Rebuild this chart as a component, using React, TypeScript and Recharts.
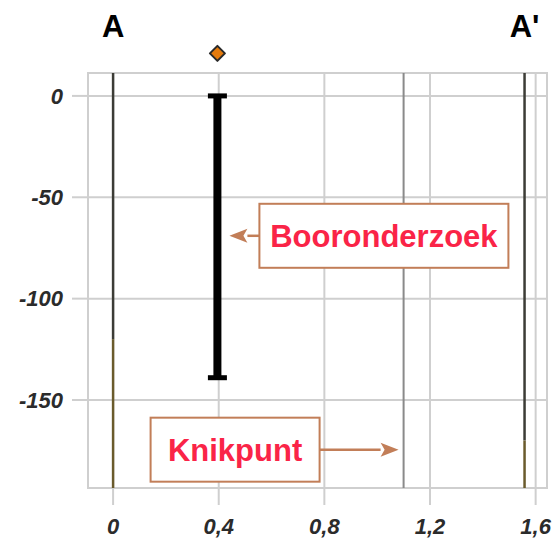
import React from "react";
import {
  ComposedChart,
  Line,
  XAxis,
  YAxis,
  CartesianGrid,
  ReferenceLine,
  ReferenceDot,
  ReferenceArea,
} from "recharts";

// axis ranges and ticks
const xDomain = [-0.095, 1.643];
const yDomain = [-193.4, 11.3];
const xTicks = [0, 0.4, 0.8, 1.2, 1.6];
const yTicks = [0, -50, -100, -150];

// profile ends A and A'
const profileNames = ["A", "A'"];
const profileX = [0, 1.558];
const profileColorChange = [-120, -170];

// knikpunt
const knikpuntX = 1.1;
const knikpuntY = -174.5;

// borehole
const boreholeX = 0.395;
const boreholeTop = 0;
const boreholeBottom = -139;
const boreholeMarkerY = 21;
const boreholeLabelY = -69;

const annotationLabels = ["Booronderzoek", "Knikpunt"];

const boreholeData = [
  { x: boreholeX, y: boreholeTop },
  { x: boreholeX, y: boreholeBottom },
];

const GRID = "#cfcfcf";
const BROWN = "#c27e58";
const RED = "#fa2447";
const FONT = "'Liberation Sans', Arial, sans-serif";

const fmt = (v: number) => String(v).replace(".", ",");

const Cap = (props: any) => {
  const { cx, cy, index } = props;
  if (cx == null || cy == null) return <g key={index} />;
  return <rect key={index} x={cx - 9.5} y={cy - 2.5} width={19} height={5} fill="#000" />;
};

const Diamond = (props: any) => {
  const { cx, cy } = props;
  const r = 7.5;
  return (
    <path
      d={`M${cx},${cy - r} L${cx + r},${cy} L${cx},${cy + r} L${cx - r},${cy} Z`}
      fill="#e47a0c"
      stroke="#2a2a2a"
      strokeWidth={2}
      strokeLinejoin="round"
    />
  );
};

// callout box with arrow; dir = 1 box to the right of the target, -1 to the left
const Callout = ({ cx, cy, text, dir, gap, arrowLen, boxW }: any) => {
  const tipX = cx + dir * gap;
  const startX = tipX + dir * arrowLen;
  const boxX = dir > 0 ? startX : startX - boxW;
  const boxH = 64;
  const head = 18;
  return (
    <g>
      <line x1={startX} y1={cy} x2={tipX + dir * head} y2={cy} stroke={BROWN} strokeWidth={2.5} />
      <path
        d={`M${tipX},${cy} L${tipX + dir * head},${cy - 7} L${tipX + dir * (head - 4)},${cy} L${tipX + dir * head},${cy + 7} Z`}
        fill={BROWN}
      />
      <rect x={boxX} y={cy - boxH / 2} width={boxW} height={boxH} fill="#fff" stroke={BROWN} strokeWidth={2} />
      <text
        x={boxX + boxW / 2}
        y={cy + 11}
        textAnchor="middle"
        fill={RED}
        fontFamily={FONT}
        fontWeight="bold"
        fontSize={31}
      >
        {text}
      </text>
    </g>
  );
};

const tickStyle = {
  fill: "#2b2b2b",
  fontSize: 22,
  fontStyle: "italic",
  fontWeight: "bold",
  fontFamily: FONT,
};

export default function App() {
  return (
    <div style={{ position: "absolute", left: 0, top: 0, background: "#fff" }}>
      <ComposedChart
        width={556}
        height={544}
        data={boreholeData}
        margin={{ top: 73, right: 9, bottom: 0, left: 0 }}
      >
        <CartesianGrid stroke={GRID} strokeWidth={2} />
        <ReferenceArea
          x1={xDomain[0]}
          x2={xDomain[1]}
          y1={yDomain[0]}
          y2={yDomain[1]}
          fill="none"
          stroke={GRID}
          strokeWidth={2}
        />
        <XAxis
          type="number"
          dataKey="x"
          domain={xDomain}
          ticks={xTicks}
          allowDataOverflow
          height={56}
          axisLine={false}
          tickSize={17}
          tickMargin={13}
          tickLine={{ stroke: GRID, strokeWidth: 2 }}
          tick={tickStyle}
          tickFormatter={fmt}
          interval={0}
        />
        <YAxis
          type="number"
          domain={yDomain}
          ticks={yTicks}
          allowDataOverflow
          width={88}
          axisLine={false}
          tickSize={16}
          tickMargin={9}
          tickLine={{ stroke: GRID, strokeWidth: 2 }}
          tick={tickStyle}
          tickFormatter={fmt}
          interval={0}
        />

        {profileX.map((x, i) => (
          <ReferenceLine
            key={"top" + i}
            segment={[
              { x, y: yDomain[1] },
              { x, y: profileColorChange[i] },
            ]}
            stroke="#3c3c36"
            strokeWidth={2.5}
            label={{
              value: profileNames[i],
              position: "top",
              offset: 36,
              fill: "#000",
              fontSize: 31,
              fontWeight: "bold",
              fontFamily: FONT,
            }}
          />
        ))}
        {profileX.map((x, i) => (
          <ReferenceLine
            key={"bot" + i}
            segment={[
              { x, y: profileColorChange[i] },
              { x, y: yDomain[0] },
            ]}
            stroke="#6a5b2c"
            strokeWidth={2.5}
          />
        ))}
        <ReferenceLine x={knikpuntX} stroke="#8a8a8a" strokeWidth={2} />

        <Line
          dataKey="y"
          stroke="#000"
          strokeWidth={8}
          dot={Cap}
          activeDot={false}
          isAnimationActive={false}
        />
        <ReferenceDot
          x={boreholeX}
          y={boreholeMarkerY}
          ifOverflow="visible"
          shape={Diamond}
        />
        <ReferenceDot
          x={boreholeX}
          y={boreholeLabelY}
          shape={(p: any) => (
            <Callout cx={p.cx} cy={p.cy} text={annotationLabels[0]} dir={1} gap={12} arrowLen={30} boxW={249} />
          )}
        />
        <ReferenceDot
          x={knikpuntX}
          y={knikpuntY}
          shape={(p: any) => (
            <Callout cx={p.cx} cy={p.cy} text={annotationLabels[1]} dir={-1} gap={5} arrowLen={79} boxW={169} />
          )}
        />
      </ComposedChart>
    </div>
  );
}
